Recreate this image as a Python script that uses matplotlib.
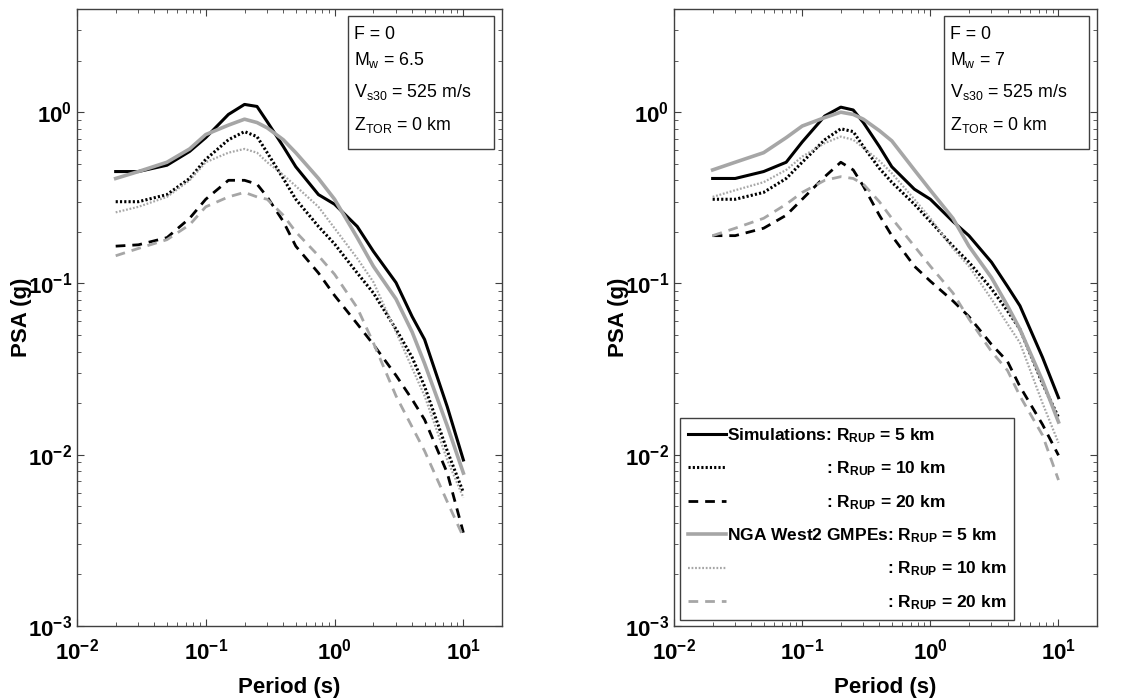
import matplotlib

matplotlib.use("Agg")
import matplotlib.pyplot as plt
from matplotlib.patches import Rectangle

plt.rcParams["font.family"] = ["Liberation Sans", "DejaVu Sans"]
plt.rcParams["mathtext.default"] = "regular"

# periods (s) shared by every curve
periods = [0.02, 0.03, 0.05, 0.075, 0.1, 0.15, 0.2, 0.25, 0.3, 0.4, 0.5,
           0.75, 1.0, 1.5, 2.0, 3.0, 4.0, 5.0, 7.5, 10.0]

# Mw 6.5 panel
sim65_r5 = [0.45, 0.45, 0.49, 0.59, 0.71, 0.97, 1.11, 1.08, 0.88, 0.63, 0.48,
            0.33, 0.29, 0.215, 0.154, 0.101, 0.064, 0.047, 0.019, 0.0093]
sim65_r10 = [0.30, 0.30, 0.33, 0.41, 0.53, 0.69, 0.77, 0.72, 0.58, 0.41, 0.31,
             0.215, 0.17, 0.115, 0.088, 0.054, 0.037, 0.025, 0.0105, 0.006]
sim65_r20 = [0.165, 0.168, 0.185, 0.24, 0.31, 0.40, 0.40, 0.38, 0.32, 0.23, 0.165,
             0.115, 0.085, 0.058, 0.044, 0.029, 0.021, 0.016, 0.0078, 0.0035]
nga65_r5 = [0.41, 0.45, 0.51, 0.61, 0.74, 0.84, 0.91, 0.87, 0.81, 0.69, 0.58,
            0.41, 0.31, 0.185, 0.126, 0.081, 0.052, 0.034, 0.0147, 0.0078]
nga65_r10 = [0.26, 0.28, 0.32, 0.40, 0.51, 0.58, 0.61, 0.58, 0.51, 0.43, 0.37,
             0.28, 0.21, 0.14, 0.102, 0.052, 0.032, 0.022, 0.0093, 0.0056]
nga65_r20 = [0.145, 0.16, 0.18, 0.22, 0.28, 0.32, 0.34, 0.32, 0.31, 0.25, 0.20,
             0.145, 0.113, 0.072, 0.045, 0.022, 0.0145, 0.0105, 0.0053, 0.0033]

# Mw 7 panel
sim7_r5 = [0.41, 0.41, 0.45, 0.51, 0.67, 0.95, 1.07, 1.03, 0.87, 0.63, 0.48,
           0.355, 0.31, 0.23, 0.19, 0.133, 0.096, 0.074, 0.037, 0.0215]
sim7_r10 = [0.31, 0.31, 0.34, 0.41, 0.51, 0.69, 0.80, 0.77, 0.63, 0.47, 0.39,
            0.29, 0.23, 0.165, 0.133, 0.093, 0.069, 0.054, 0.026, 0.0165]
sim7_r20 = [0.19, 0.19, 0.21, 0.25, 0.31, 0.42, 0.51, 0.46, 0.37, 0.25, 0.19,
            0.126, 0.103, 0.079, 0.064, 0.044, 0.035, 0.025, 0.015, 0.0099]
nga7_r5 = [0.46, 0.51, 0.58, 0.71, 0.83, 0.93, 1.0, 0.97, 0.91, 0.78, 0.68,
           0.46, 0.35, 0.24, 0.165, 0.108, 0.074, 0.054, 0.027, 0.0155]
nga7_r10 = [0.32, 0.35, 0.39, 0.46, 0.55, 0.66, 0.72, 0.69, 0.62, 0.52, 0.44,
            0.31, 0.24, 0.16, 0.126, 0.081, 0.058, 0.045, 0.020, 0.0117]
nga7_r20 = [0.19, 0.21, 0.24, 0.29, 0.34, 0.40, 0.42, 0.41, 0.38, 0.30, 0.24,
            0.165, 0.126, 0.088, 0.062, 0.04, 0.031, 0.022, 0.013, 0.0071]

info_65 = ["F = 0", "$M_w$ = 6.5", "$V_{s30}$ = 525 m/s", "$Z_{TOR}$ = 0 km"]
info_7 = ["F = 0", "$M_w$ = 7", "$V_{s30}$ = 525 m/s", "$Z_{TOR}$ = 0 km"]

legend_labels = [
    "Simulations: $R_{RUP}$ = 5 km",
    ": $R_{RUP}$ = 10 km",
    ": $R_{RUP}$ = 20 km",
    "NGA West2 GMPEs: $R_{RUP}$ = 5 km",
    ": $R_{RUP}$ = 10 km",
    ": $R_{RUP}$ = 20 km",
]

BLACK = "black"
GRAY = "#a6a6a6"
SPINE = "#404040"

# baselines of the four info lines, in axes fraction (subscripts make them uneven)
INFO_BASELINES = [0.951, 0.909, 0.857, 0.804]


def draw_panel(ax, curves, info):
    styles = [
        dict(color=BLACK, ls="-", lw=2.2),
        dict(color=BLACK, ls=(0, (0.7, 0.7)), lw=2.2),
        dict(color=BLACK, ls=(0, (3.5, 2.5)), lw=2.0),
        dict(color=GRAY, ls="-", lw=2.6),
        dict(color=GRAY, ls=(0, (0.8, 0.8)), lw=1.6),
        dict(color=GRAY, ls=(0, (3.5, 2.5)), lw=2.0),
    ]
    lines = []
    for values, style in zip(curves, styles):
        (line,) = ax.plot(periods, values, **style)
        lines.append(line)

    ax.set_xscale("log")
    ax.set_yscale("log")
    ax.set_xlim(0.01, 20)
    ax.set_ylim(1e-3, 4)
    ax.set_xticks([1e-2, 1e-1, 1e0, 1e1])
    ax.set_yticks([1e-3, 1e-2, 1e-1, 1e0])
    ax.tick_params(which="both", direction="in", top=True, right=True,
                   color=SPINE, labelsize=16)
    ax.tick_params(which="major", length=5)
    ax.tick_params(which="minor", length=3)
    ax.tick_params(axis="x", which="major", pad=9)
    for label in ax.get_xticklabels() + ax.get_yticklabels():
        label.set_fontweight("bold")
    for spine in ax.spines.values():
        spine.set_color(SPINE)
        spine.set_linewidth(1.0)

    ax.set_xlabel("Period (s)", fontsize=16, fontweight="bold", labelpad=9)
    ax.set_ylabel("PSA (g)", fontsize=16, fontweight="bold", labelpad=-3)

    # parameter box in the upper right corner
    ax.add_patch(Rectangle((0.637, 0.773), 0.344, 0.216, transform=ax.transAxes,
                           facecolor="white", edgecolor=SPINE, lw=1.0, zorder=5))
    for text, y in zip(info, INFO_BASELINES):
        ax.text(0.652, y, text, transform=ax.transAxes, ha="left",
                va="baseline", fontsize=12.8, zorder=6)
    return lines


fig = plt.figure(figsize=(11.31, 7.0), dpi=100)
ax1 = fig.add_axes([0.068, 0.106, 0.376, 0.881])
ax2 = fig.add_axes([0.596, 0.106, 0.374, 0.881])

draw_panel(ax1, [sim65_r5, sim65_r10, sim65_r20, nga65_r5, nga65_r10, nga65_r20], info_65)
lines = draw_panel(ax2, [sim7_r5, sim7_r10, sim7_r20, nga7_r5, nga7_r10, nga7_r20], info_7)

leg = ax2.legend(lines, legend_labels, loc="lower left",
                 prop=dict(weight="bold", size=12.5), handlelength=2.2,
                 handletextpad=0.05, labelspacing=0.85, borderpad=0.45,
                 borderaxespad=0.35, fancybox=False, framealpha=1,
                 edgecolor=SPINE)
leg.get_frame().set_linewidth(1.0)

# push the continuation rows so their colons line up under the first row's colon
renderer = fig.canvas.get_renderer()
prop = leg.get_texts()[0].get_fontproperties()
rows = leg._legend_handle_box.get_children()[0].get_children()
base_sep = rows[0].sep
for prefix, idx in (("Simulations", (1, 2)), ("NGA West2 GMPEs", (4, 5))):
    w, _, _ = renderer.get_text_width_height_descent(prefix, prop, ismath=False)
    for i in idx:
        rows[i].sep = base_sep + w * 72.0 / fig.dpi

fig.savefig("out.png", dpi=100)
